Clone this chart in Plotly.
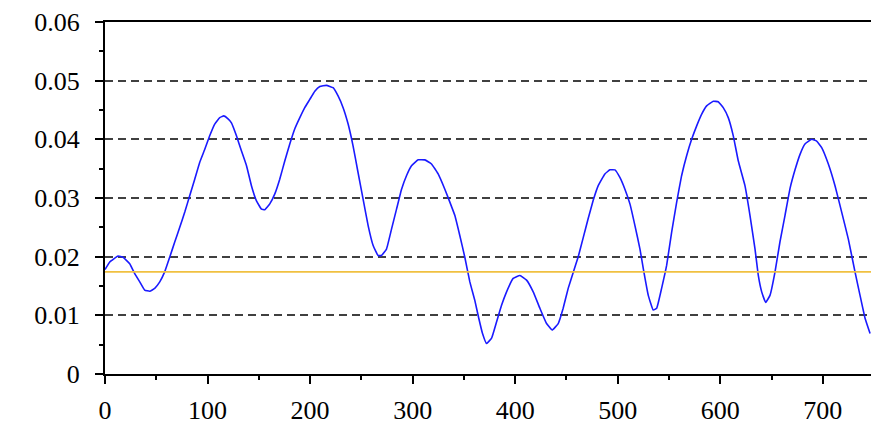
import plotly.graph_objects as go

# Data
x_values = [0, 4.6, 12.7, 17.6, 24.1, 29, 33.9, 38.7, 43.6, 48.5, 53.4, 58.2, 63.1, 68, 72.9, 77.8,
            82.6, 87.5, 92.4, 97.3, 102.1, 107, 111.9, 115.8, 120, 123.3, 128.2, 133.1, 138, 142.8,
            147.7, 152.6, 155.8, 160.7, 165.6, 170.4, 175.3, 180.2, 185.1, 190, 194.8, 199.7, 204.6,
            209.5, 216, 222.4, 227.3, 232.2, 237.1, 241.9, 246.5, 251.7, 256.6, 261.5, 266.3, 269.6,
            274.5, 279.4, 284.3, 289.2, 294, 298.9, 305.4, 311.9, 318.4, 324.9, 331.4, 336.3, 341.2,
            346, 350.9, 355.8, 360.7, 364.5, 368, 372.1, 377, 381.9, 386.7, 391.6, 398, 404.6, 411.1,
            417.6, 424.1, 430.6, 436.1, 442, 446.8, 451.7, 456.6, 461.5, 466.3, 471.2, 476.1, 481,
            487.5, 492.4, 497.3, 502.1, 507, 511.9, 516.8, 521.7, 524.9, 529.8, 534.6, 538, 542.8,
            547.7, 552.6, 557.5, 562.3, 567.2, 572.1, 577, 581.9, 586.7, 593.2, 598, 602.9, 607.8,
            612.7, 617.6, 624.1, 629, 633.9, 637.1, 640.4, 644.3, 648.5, 653.4, 658.2, 663.1, 668,
            672.9, 677.7, 682.6, 689.2, 694, 698.9, 705.4, 711.9, 718.4, 724.9, 731.4, 736.3, 741.2,
            746.1]
y_values = [0.0178, 0.0191, 0.0201, 0.0199, 0.0188, 0.0171, 0.0157, 0.0143, 0.0141, 0.0146, 0.0157,
            0.0174, 0.0199, 0.0225, 0.0250, 0.0276, 0.0304, 0.0332, 0.0361, 0.0383, 0.0406, 0.0426,
            0.0437, 0.0440, 0.0435, 0.0428, 0.0406, 0.0380, 0.0355, 0.0321, 0.0295, 0.0281, 0.0280,
            0.0290, 0.0307, 0.0332, 0.0363, 0.0392, 0.0418, 0.0437, 0.0454, 0.0468, 0.0482, 0.0490,
            0.0492, 0.0488, 0.0474, 0.0454, 0.0426, 0.0389, 0.0346, 0.0298, 0.0253, 0.0219, 0.0202,
            0.0202, 0.0213, 0.0247, 0.0281, 0.0315, 0.0338, 0.0355, 0.0365, 0.0365, 0.0358, 0.0341,
            0.0315, 0.0293, 0.0270, 0.0236, 0.0199, 0.0157, 0.0125, 0.0095, 0.0070, 0.0052, 0.0061,
            0.0089, 0.0117, 0.0140, 0.0163, 0.0168, 0.0160, 0.0140, 0.0112, 0.0086, 0.0075, 0.0086,
            0.0112, 0.0146, 0.0173, 0.0200, 0.0232, 0.0265, 0.0296, 0.0321, 0.0341, 0.0348, 0.0348,
            0.0335, 0.0315, 0.0290, 0.0253, 0.0213, 0.0180, 0.0134, 0.0109, 0.0112, 0.0146, 0.0185,
            0.0242, 0.0293, 0.0338, 0.0372, 0.0400, 0.0423, 0.0443, 0.0457, 0.0465, 0.0464, 0.0454,
            0.0437, 0.0406, 0.0363, 0.0321, 0.0270, 0.0213, 0.0168, 0.0140, 0.0122, 0.0134, 0.0174,
            0.0225, 0.0270, 0.0316, 0.0348, 0.0374, 0.0392, 0.0400, 0.0397, 0.0386, 0.0358, 0.0321,
            0.0276, 0.0230, 0.0174, 0.0134, 0.0095, 0.0069]
threshold = 0.0174
x_ticks = [0, 100, 200, 300, 400, 500, 600, 700]
y_ticks = [0, 0.01, 0.02, 0.03, 0.04, 0.05, 0.06]
y_tick_labels = ["0", "0.01", "0.02", "0.03", "0.04", "0.05", "0.06"]

fig = go.Figure()
fig.add_trace(go.Scatter(
    x=x_values, y=y_values, mode="lines",
    line=dict(color="#1a1aff", width=1.6, shape="spline", smoothing=0.3),
    showlegend=False, hoverinfo="skip"))
fig.add_hline(y=threshold, line=dict(color="#F0C040", width=1.6))

fig.update_layout(
    width=871, height=427,
    margin=dict(l=105, r=0, t=22, b=53, autoexpand=False),
    paper_bgcolor="white", plot_bgcolor="white",
    font=dict(family="Liberation Serif", size=26, color="black"),
    showlegend=False,
)
fig.update_xaxes(
    range=[0, 747], tickvals=x_ticks, ticktext=[str(v) for v in x_ticks],
    showline=True, linecolor="black", linewidth=2, mirror=True,
    ticks="outside", ticklen=8, tickwidth=2, tickcolor="black", ticklabelstandoff=4,
    minor=dict(dtick=50, tick0=0, ticks="outside", ticklen=4, tickwidth=2, tickcolor="black",
               showgrid=False),
    showgrid=False, zeroline=False, fixedrange=True, automargin=False,
)
fig.update_yaxes(
    range=[0, 0.06], tickvals=y_ticks, ticktext=y_tick_labels,
    showline=True, linecolor="black", linewidth=2,
    ticks="outside", ticklen=8, tickwidth=2, tickcolor="black", ticklabelstandoff=10,
    minor=dict(dtick=0.005, tick0=0, ticks="outside", ticklen=4, tickwidth=2, tickcolor="black",
               showgrid=False),
    showgrid=True, gridcolor="#404040", gridwidth=1.5, griddash="8px,5px",
    zeroline=False, fixedrange=True, automargin=False,
)

fig.write_html(
    "out.html",
    config={"displayModeBar": False},
    post_script="document.body.style.margin='0';document.body.style.overflow='hidden';",
)
